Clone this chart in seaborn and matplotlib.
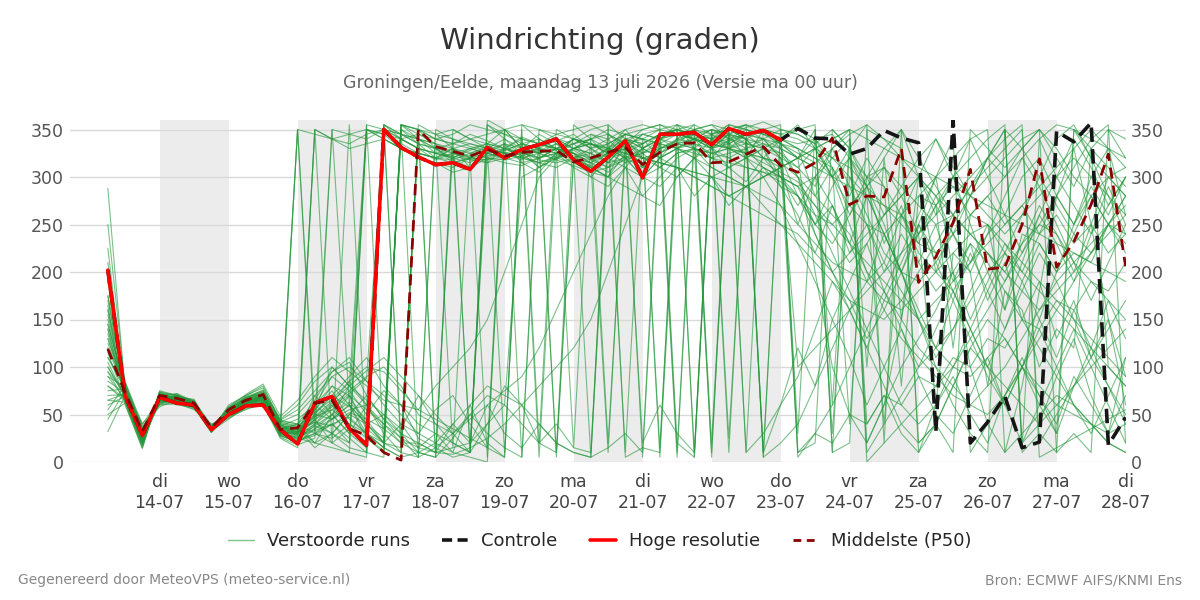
import numpy as np
import pandas as pd
import matplotlib
matplotlib.use("Agg")
import matplotlib.pyplot as plt
from matplotlib.lines import Line2D
import seaborn as sns

# forecast steps: hours after ma 13-07 00 uur, every 6 h up to di 28-07
hours = list(range(6, 361, 6))

# hoge resolutie run (up to 23-07 00 uur)
hres = [202, 70, 28, 68, 62, 60, 34, 50, 59, 60, 34, 19, 62, 69, 35, 18, 350, 331, 321, 313,
        315, 308, 331, 320, 329, 334, 340, 318, 306, 321, 338, 299, 345, 345, 347, 334, 351, 345, 349, 339]

# control run
controle = hres[:40] + [351, 341, 340, 324, 330, 349, 341, 336, 32, 360,
                        20, 42, 69, 15, 21, 348, 337, 357, 18, 47]

# median of the ensemble
p50 = [119, 73, 32, 70, 67, 62, 36, 55, 65, 71, 34, 36, 62, 65, 35, 28, 10, 2, 350, 332,
       327, 322, 329, 322, 326, 327, 328, 316, 320, 326, 331, 313, 326, 335, 336, 315, 316, 324, 332, 312,
       305, 315, 341, 271, 280, 279, 330, 189, 216, 252, 308, 203, 205, 250, 319, 205, 232, 271, 324, 206]

# perturbed members (approx.)
members = [
    [288, 75, 40, 65, 68, 62, 35, 55, 62, 68, 30, 25, 40, 60, 35, 20, 350, 335, 325, 320,
     318, 310, 325, 330, 322, 328, 335, 320, 315, 325, 335, 310, 330, 340, 345, 330, 345, 340, 350, 335,
     330, 320, 300, 270, 250, 240, 260, 220, 200, 180, 210, 240, 260, 300, 320, 280, 250, 300, 330, 260],
    [250, 80, 30, 70, 65, 60, 38, 50, 60, 65, 35, 40, 55, 75, 45, 30, 20, 15, 350, 330,
     315, 320, 330, 325, 318, 330, 325, 310, 300, 320, 330, 305, 335, 345, 330, 320, 340, 335, 330, 300,
     280, 250, 230, 260, 300, 330, 350, 10, 40, 80, 120, 150, 130, 100, 60, 30, 350, 320, 300, 280],
    [225, 70, 25, 66, 70, 64, 34, 52, 68, 72, 40, 350, 30, 45, 60, 25, 10, 355, 340, 325,
     320, 315, 328, 322, 326, 320, 330, 325, 310, 300, 340, 320, 325, 335, 340, 320, 325, 330, 340, 320,
     310, 290, 330, 350, 20, 60, 100, 130, 160, 200, 230, 210, 180, 150, 120, 90, 60, 40, 20, 10],
    [200, 65, 20, 72, 66, 58, 36, 56, 64, 70, 38, 45, 60, 80, 70, 40, 50, 30, 20, 10,
     15, 20, 40, 60, 300, 310, 320, 330, 335, 328, 340, 330, 345, 350, 340, 335, 330, 345, 350, 345,
     350, 340, 320, 300, 260, 220, 200, 190, 210, 240, 280, 300, 320, 340, 350, 330, 300, 280, 250, 230],
    [175, 85, 35, 60, 62, 55, 40, 48, 55, 62, 28, 20, 35, 50, 30, 15, 355, 340, 330, 318,
     325, 322, 315, 320, 330, 325, 318, 330, 325, 315, 335, 340, 350, 10, 350, 340, 345, 335, 330, 325,
     300, 280, 260, 240, 200, 180, 150, 120, 100, 80, 60, 50, 70, 100, 150, 200, 250, 280, 300, 310],
    [165, 60, 15, 75, 70, 62, 32, 60, 70, 78, 45, 60, 85, 100, 80, 60, 40, 20, 10, 5,
     350, 340, 335, 330, 325, 320, 325, 335, 340, 330, 320, 300, 310, 325, 330, 345, 350, 355, 5, 20,
     40, 80, 120, 160, 190, 210, 180, 150, 100, 60, 30, 10, 350, 330, 300, 270, 240, 220, 250, 280],
    [155, 72, 28, 64, 64, 60, 33, 45, 58, 60, 25, 15, 350, 340, 335, 345, 350, 330, 320, 315,
     305, 310, 320, 318, 322, 315, 320, 325, 300, 290, 310, 280, 300, 320, 330, 310, 300, 290, 270, 250,
     230, 210, 190, 170, 160, 150, 170, 200, 230, 260, 290, 310, 330, 350, 20, 50, 80, 110, 140, 170],
    [145, 78, 32, 68, 60, 58, 37, 54, 66, 74, 32, 30, 50, 70, 90, 110, 80, 60, 40, 30,
     20, 10, 360, 350, 340, 335, 330, 325, 320, 310, 330, 345, 340, 330, 320, 300, 280, 290, 300, 310,
     320, 330, 340, 350, 0, 20, 40, 60, 80, 100, 130, 160, 190, 220, 250, 280, 310, 340, 355, 20],
    [140, 68, 22, 62, 68, 66, 35, 50, 62, 66, 36, 35, 20, 30, 15, 10, 355, 345, 340, 335,
     330, 325, 332, 328, 335, 330, 340, 335, 320, 330, 345, 350, 355, 350, 345, 340, 350, 355, 345, 340,
     335, 340, 345, 320, 300, 310, 290, 270, 250, 260, 240, 220, 200, 230, 250, 240, 210, 190, 170, 150],
    [130, 74, 30, 70, 72, 60, 34, 58, 70, 80, 42, 50, 70, 90, 100, 85, 70, 50, 30, 20,
     10, 5, 0, 350, 330, 320, 330, 340, 335, 325, 330, 320, 325, 335, 340, 330, 320, 310, 305, 295,
     280, 260, 250, 270, 290, 250, 200, 150, 120, 100, 90, 110, 130, 100, 80, 60, 50, 40, 30, 40],
    [120, 82, 38, 58, 66, 64, 39, 47, 57, 63, 27, 22, 30, 25, 40, 30, 15, 5, 350, 340,
     335, 330, 325, 320, 325, 330, 320, 315, 310, 320, 325, 315, 330, 335, 350, 355, 350, 340, 320, 300,
     290, 300, 320, 340, 10, 40, 70, 100, 120, 140, 170, 200, 220, 200, 180, 160, 140, 120, 100, 80],
    [115, 66, 18, 74, 64, 57, 31, 53, 61, 69, 33, 28, 45, 60, 75, 90, 100, 80, 50, 40,
     30, 50, 70, 60, 40, 20, 10, 355, 340, 320, 310, 300, 320, 330, 340, 345, 335, 325, 315, 305,
     295, 270, 240, 210, 230, 260, 290, 320, 340, 310, 280, 260, 240, 260, 280, 300, 320, 300, 280, 260],
    [110, 76, 26, 67, 69, 61, 36, 51, 63, 71, 39, 33, 48, 55, 40, 25, 12, 355, 345, 335,
     325, 318, 322, 326, 320, 315, 322, 328, 318, 310, 322, 315, 330, 338, 345, 350, 345, 352, 358, 350,
     345, 335, 300, 250, 200, 160, 130, 110, 90, 70, 60, 80, 100, 130, 160, 190, 210, 230, 250, 270],
    [100, 70, 24, 63, 67, 63, 33, 49, 59, 64, 30, 350, 345, 340, 330, 335, 340, 330, 325, 320,
     315, 320, 325, 320, 330, 335, 330, 325, 315, 305, 320, 330, 340, 335, 330, 325, 320, 330, 335, 330,
     320, 310, 300, 290, 280, 270, 260, 280, 300, 320, 340, 350, 10, 30, 50, 70, 60, 40, 20, 10],
    [95, 64, 16, 71, 71, 59, 35, 57, 67, 76, 44, 55, 75, 95, 105, 70, 45, 25, 15, 10,
     8, 15, 25, 40, 60, 80, 100, 120, 150, 200, 250, 300, 320, 330, 320, 310, 300, 290, 280, 270,
     250, 230, 210, 200, 190, 170, 160, 180, 200, 220, 240, 250, 230, 210, 190, 170, 150, 130, 110, 90],
    [90, 79, 34, 65, 63, 62, 37, 52, 60, 67, 31, 26, 35, 45, 55, 60, 30, 10, 355, 345,
     340, 332, 328, 335, 330, 325, 330, 322, 318, 325, 330, 335, 345, 350, 355, 5, 355, 350, 340, 335,
     325, 315, 330, 345, 355, 340, 320, 300, 280, 300, 320, 340, 355, 10, 30, 10, 350, 330, 310, 290],
    [85, 73, 29, 69, 65, 60, 34, 50, 64, 68, 37, 31, 42, 38, 52, 45, 35, 340, 330, 325,
     322, 318, 315, 330, 326, 318, 315, 320, 325, 315, 320, 310, 325, 340, 335, 330, 338, 345, 350, 345,
     340, 330, 320, 310, 290, 270, 250, 230, 220, 240, 260, 280, 300, 320, 340, 355, 350, 340, 330, 320],
    [80, 67, 21, 66, 70, 65, 32, 55, 68, 73, 41, 37, 52, 66, 85, 100, 95, 75, 55, 45,
     35, 25, 15, 5, 355, 340, 330, 320, 310, 300, 290, 280, 270, 300, 320, 340, 330, 320, 310, 300,
     290, 250, 270, 220, 250, 200, 240, 210, 180, 200, 150, 190, 230, 200, 240, 280, 250, 290, 260, 300],
    [75, 77, 36, 61, 61, 56, 38, 46, 56, 61, 26, 18, 25, 350, 345, 340, 350, 345, 335, 330,
     320, 328, 335, 330, 322, 332, 338, 345, 330, 320, 340, 345, 350, 355, 350, 345, 355, 350, 345, 340,
     330, 280, 310, 260, 290, 230, 270, 210, 250, 190, 230, 170, 210, 150, 190, 130, 170, 110, 150, 90],
    [70, 71, 27, 72, 68, 61, 35, 53, 65, 70, 34, 29, 60, 45, 70, 55, 40, 25, 5, 350,
     340, 335, 330, 325, 330, 335, 340, 330, 325, 335, 345, 340, 335, 330, 340, 350, 345, 340, 335, 325,
     310, 330, 300, 320, 290, 310, 280, 300, 270, 290, 260, 280, 250, 270, 240, 260, 230, 250, 220, 240],
    [65, 63, 19, 68, 66, 58, 33, 48, 60, 66, 29, 24, 38, 50, 63, 45, 20, 350, 340, 330,
     318, 325, 320, 315, 312, 320, 325, 315, 305, 300, 315, 320, 310, 325, 330, 320, 310, 320, 330, 320,
     10, 30, 20, 50, 40, 70, 60, 90, 80, 110, 100, 130, 120, 150, 140, 170, 160, 190, 180, 210],
    [60, 69, 25, 64, 65, 63, 36, 54, 62, 69, 35, 30, 44, 58, 72, 88, 350, 340, 330, 325,
     320, 330, 325, 320, 315, 320, 330, 340, 350, 355, 5, 15, 10, 355, 345, 335, 330, 325, 320, 315,
     300, 260, 220, 180, 140, 100, 60, 40, 60, 100, 140, 180, 220, 260, 300, 340, 355, 320, 280, 240],
    [55, 81, 33, 70, 67, 59, 37, 51, 66, 72, 40, 36, 55, 80, 60, 40, 20, 10, 5, 15,
     30, 45, 60, 75, 90, 120, 160, 200, 240, 280, 310, 330, 340, 345, 340, 335, 340, 345, 350, 355,
     5, 30, 60, 100, 140, 180, 220, 260, 300, 340, 10, 40, 70, 100, 130, 160, 190, 220, 250, 280],
    [50, 62, 14, 73, 63, 57, 34, 56, 69, 75, 43, 40, 30, 20, 10, 5, 355, 345, 340, 330,
     325, 320, 318, 322, 328, 325, 318, 312, 305, 310, 318, 325, 330, 335, 330, 325, 330, 335, 340, 320,
     280, 240, 200, 160, 120, 80, 40, 20, 40, 80, 120, 100, 80, 60, 40, 60, 80, 100, 120, 140],
    [45, 75, 31, 65, 72, 64, 31, 49, 63, 65, 30, 25, 20, 15, 10, 350, 345, 330, 325, 320,
     330, 335, 330, 325, 320, 325, 330, 335, 340, 345, 335, 320, 315, 310, 300, 290, 280, 270, 260, 250,
     240, 220, 200, 220, 240, 260, 280, 300, 280, 260, 240, 220, 200, 180, 160, 180, 200, 220, 240, 260],
    [32, 70, 23, 67, 62, 60, 38, 52, 58, 63, 33, 27, 33, 40, 47, 30, 15, 5, 10, 20,
     40, 60, 80, 70, 60, 40, 20, 10, 5, 355, 340, 330, 320, 310, 300, 290, 280, 290, 300, 310,
     320, 330, 340, 350, 340, 330, 320, 310, 300, 290, 280, 270, 260, 250, 240, 230, 220, 210, 200, 190],
    [160, 84, 40, 60, 69, 61, 35, 58, 71, 82, 48, 65, 90, 110, 95, 80, 65, 60, 55, 80,
     100, 120, 150, 200, 250, 300, 320, 330, 335, 330, 325, 320, 315, 310, 305, 300, 295, 290, 300, 310,
     320, 200, 100, 50, 20, 60, 150, 250, 300, 200, 100, 40, 10, 80, 180, 280, 330, 250, 150, 60],
    [135, 72, 29, 66, 64, 62, 34, 50, 61, 67, 32, 30, 350, 20, 355, 10, 350, 345, 335, 330,
     335, 340, 345, 350, 355, 350, 345, 340, 335, 330, 325, 320, 315, 310, 305, 300, 310, 320, 330, 340,
     350, 355, 10, 20, 350, 340, 330, 20, 40, 10, 350, 330, 310, 330, 350, 10, 30, 10, 350, 340],
    [125, 76, 30, 68, 66, 60, 36, 52, 63, 68, 36, 32, 48, 64, 80, 96, 110, 90, 70, 50,
     30, 10, 355, 340, 325, 310, 320, 330, 340, 350, 345, 340, 335, 330, 325, 320, 315, 310, 305, 300,
     290, 270, 250, 230, 210, 190, 170, 150, 170, 190, 210, 230, 250, 270, 290, 310, 330, 350, 330, 310],
    [105, 68, 26, 64, 68, 62, 33, 54, 64, 70, 38, 34, 42, 30, 20, 350, 340, 330, 320, 315,
     310, 320, 330, 325, 320, 315, 310, 320, 330, 340, 350, 355, 350, 345, 340, 335, 330, 325, 320, 315,
     100, 120, 140, 160, 180, 200, 220, 240, 260, 280, 300, 320, 340, 355, 5, 15, 25, 35, 45, 55],
    [150, 70, 24, 70, 66, 60, 35, 52, 62, 68, 34, 40, 20, 50, 30, 60, 355, 10, 345, 5,
     340, 10, 335, 350, 5, 340, 330, 15, 345, 335, 10, 340, 5, 330, 345, 20, 350, 340, 10, 345,
     30, 350, 60, 340, 100, 320, 150, 300, 200, 250, 280, 320, 350, 20, 60, 100, 140, 100, 60, 20],
    [170, 78, 33, 62, 64, 58, 37, 50, 60, 64, 29, 23, 30, 40, 20, 355, 350, 20, 340, 335,
     15, 325, 330, 10, 335, 340, 5, 320, 315, 10, 340, 335, 15, 345, 340, 350, 10, 345, 340, 330,
     320, 310, 30, 300, 280, 40, 260, 240, 60, 220, 200, 80, 180, 160, 100, 140, 120, 330, 100, 80],
    [190, 66, 20, 74, 70, 63, 34, 56, 66, 72, 40, 350, 45, 350, 60, 30, 15, 355, 350, 10,
     330, 320, 5, 335, 325, 330, 10, 320, 5, 330, 320, 325, 335, 5, 340, 335, 345, 10, 350, 340,
     330, 320, 310, 40, 300, 290, 80, 280, 270, 120, 260, 250, 160, 240, 230, 200, 220, 210, 250, 240],
    [210, 74, 27, 66, 67, 61, 36, 53, 64, 69, 35, 31, 55, 100, 80, 355, 15, 350, 5, 345,
     330, 15, 320, 330, 340, 5, 325, 330, 340, 20, 330, 345, 340, 350, 10, 345, 350, 340, 5, 350,
     10, 20, 350, 330, 40, 70, 30, 10, 60, 90, 50, 20, 70, 110, 70, 30, 80, 120, 80, 40],
    [140, 72, 30, 66, 65, 60, 35, 52, 62, 67, 33, 28, 40, 55, 70, 35, 20, 40, 15, 30,
     10, 60, 20, 5, 350, 20, 40, 15, 10, 345, 330, 20, 60, 30, 10, 350, 25, 340, 10, 60,
     120, 80, 150, 110, 60, 100, 140, 90, 50, 30, 70, 110, 60, 20, 40, 90, 130, 70, 30, 110],
    [100, 68, 24, 69, 67, 62, 36, 53, 64, 70, 37, 32, 60, 90, 75, 50, 75, 60, 25, 15,
     5, 10, 40, 80, 60, 20, 350, 340, 330, 335, 345, 340, 320, 330, 335, 325, 330, 340, 320, 310,
     250, 300, 270, 230, 280, 240, 200, 250, 210, 170, 220, 180, 140, 190, 150, 110, 160, 120, 170, 130],
    [120, 74, 28, 67, 66, 61, 35, 51, 63, 68, 34, 30, 45, 20, 35, 15, 350, 340, 345, 340,
     335, 345, 338, 330, 342, 335, 328, 335, 345, 340, 320, 300, 290, 310, 280, 300, 270, 290, 310, 300,
     270, 300, 330, 290, 250, 210, 260, 300, 340, 300, 250, 200, 160, 210, 260, 230, 190, 240, 290, 250],
    [90, 66, 22, 71, 68, 60, 34, 55, 66, 71, 39, 35, 15, 30, 50, 40, 20, 350, 335, 320,
     330, 310, 325, 335, 315, 305, 325, 340, 335, 325, 345, 5, 340, 355, 330, 10, 345, 320, 350, 330,
     300, 240, 200, 170, 130, 160, 200, 150, 110, 140, 180, 220, 190, 230, 270, 240, 200, 250, 300, 280],
    [130, 78, 34, 64, 63, 59, 37, 50, 61, 65, 31, 26, 38, 30, 50, 70, 45, 30, 10, 5,
     25, 50, 30, 15, 5, 350, 340, 330, 335, 325, 315, 330, 340, 345, 340, 330, 335, 345, 340, 350,
     345, 335, 350, 330, 300, 260, 280, 240, 270, 300, 280, 320, 300, 330, 350, 320, 290, 330, 350, 320],
    [160, 70, 26, 68, 69, 63, 33, 54, 65, 72, 42, 38, 52, 70, 58, 350, 345, 340, 330, 325,
     330, 320, 318, 328, 335, 330, 325, 318, 312, 325, 338, 325, 340, 350, 345, 340, 335, 345, 330, 290,
     260, 220, 270, 230, 190, 240, 200, 160, 120, 170, 130, 90, 60, 100, 70, 40, 90, 60, 30, 70],
    [110, 80, 36, 62, 65, 58, 38, 48, 58, 63, 28, 22, 28, 40, 25, 10, 5, 355, 350, 345,
     350, 340, 330, 340, 330, 345, 335, 325, 315, 330, 350, 330, 320, 340, 355, 345, 330, 320, 300, 270,
     230, 190, 150, 190, 230, 180, 140, 100, 140, 180, 140, 100, 60, 100, 140, 100, 60, 30, 70, 110],
    [80, 64, 18, 73, 70, 64, 32, 57, 68, 74, 44, 40, 65, 95, 110, 85, 60, 40, 30, 55,
     70, 40, 15, 350, 330, 310, 325, 340, 330, 315, 335, 325, 310, 300, 320, 330, 310, 295, 320, 340,
     355, 330, 300, 330, 355, 20, 350, 320, 290, 260, 290, 320, 350, 15, 340, 300, 270, 240, 270, 300],
    [65, 72, 30, 65, 64, 62, 36, 51, 62, 66, 33, 29, 350, 340, 345, 350, 340, 330, 325, 320,
     325, 330, 335, 320, 325, 335, 330, 320, 310, 300, 325, 335, 345, 350, 340, 330, 345, 355, 350, 335,
     320, 340, 310, 280, 320, 290, 260, 230, 270, 240, 210, 250, 220, 190, 230, 200, 240, 280, 250, 220],
    [145, 76, 32, 63, 67, 60, 35, 52, 64, 69, 35, 31, 47, 62, 85, 60, 35, 20, 20, 10,
     40, 20, 60, 30, 15, 40, 20, 10, 5, 15, 30, 10, 355, 20, 5, 340, 355, 10, 30, 60,
     90, 140, 190, 160, 120, 170, 210, 250, 220, 180, 140, 100, 140, 180, 220, 190, 150, 110, 80, 50],
    [175, 69, 25, 70, 66, 61, 34, 54, 63, 70, 38, 34, 50, 45, 60, 40, 25, 355, 350, 340,
     345, 355, 350, 345, 340, 335, 345, 350, 355, 345, 335, 350, 355, 345, 350, 355, 340, 350, 345, 335,
     320, 350, 10, 330, 290, 320, 350, 300, 260, 300, 340, 300, 260, 220, 260, 300, 340, 310, 270, 300],
    [95, 74, 28, 68, 65, 62, 36, 53, 62, 68, 36, 32, 70, 50, 80, 65, 50, 35, 70, 40,
     20, 10, 355, 345, 335, 325, 335, 330, 320, 330, 340, 335, 345, 350, 5, 350, 340, 330, 310, 290,
     280, 250, 290, 320, 280, 240, 200, 240, 280, 240, 200, 240, 280, 320, 290, 250, 210, 170, 210, 250],
]

days = ["di", "wo", "do", "vr", "za", "zo", "ma", "di", "wo", "do", "vr", "za", "zo", "ma", "di"]
dates = ["14-07", "15-07", "16-07", "17-07", "18-07", "19-07", "20-07", "21-07",
         "22-07", "23-07", "24-07", "25-07", "26-07", "27-07", "28-07"]

# long-form table for seaborn
rows = []
for i, m in enumerate(members):
    for h, v in zip(hours, m):
        rows.append((i, h, v))
df_ens = pd.DataFrame(rows, columns=["member", "hour", "deg"])
df_hres = pd.DataFrame({"hour": hours[:len(hres)], "deg": hres})
df_ctrl = pd.DataFrame({"hour": hours, "deg": controle})
df_p50 = pd.DataFrame({"hour": hours, "deg": p50})

sns.set_style("white")
plt.rcParams["font.family"] = ["DejaVu Sans"]

fig = plt.figure(figsize=(12, 6), dpi=100)
ax = fig.add_axes([0.058, 0.23, 0.88, 0.57])

# shade every other day
for d in range(1, 15, 2):
    ax.axvspan(d * 24, (d + 1) * 24, color="#ececec", zorder=0, lw=0)

sns.lineplot(data=df_ens, x="hour", y="deg", units="member", estimator=None,
             color="#23973a", alpha=0.6, lw=0.8, ax=ax, legend=False, zorder=2)
sns.lineplot(data=df_ctrl, x="hour", y="deg", color="#151515", lw=2.6,
             ax=ax, legend=False, zorder=3)
ax.lines[-1].set_linestyle((0, (4, 2)))
sns.lineplot(data=df_hres, x="hour", y="deg", color="#ff0000", lw=2.6,
             ax=ax, legend=False, zorder=4)
sns.lineplot(data=df_p50, x="hour", y="deg", color="#8b0000", lw=2.0,
             ax=ax, legend=False, zorder=5)
ax.lines[-1].set_linestyle((0, (4, 2.5)))

ax.set_xlim(-7.3, 360)
ax.set_ylim(0, 360)
ax.set_yticks(range(0, 351, 50))
ax.set_xticks([24 * (i + 1) for i in range(len(dates))])
ax.set_xticklabels([f"{d}\n{t}" for d, t in zip(days, dates)])
ax.set_xlabel("")
ax.set_ylabel("")
ax.grid(axis="y", color="#d9d9d9", lw=1, zorder=1)
ax.set_axisbelow(True)
for s in ax.spines.values():
    s.set_visible(False)
ax.tick_params(axis="x", length=6, width=1.5, color="#666666", labelsize=12.5,
               labelcolor="#444444", pad=2)
ax.tick_params(axis="y", length=0, labelsize=12.5, labelcolor="#555555",
               labelright=True, labelleft=True, pad=4)

fig.text(0.5, 0.932, "Windrichting (graden)", ha="center", va="center",
         fontsize=21, color="#333333")
fig.text(0.5, 0.861, "Groningen/Eelde, maandag 13 juli 2026 (Versie ma 00 uur)",
         ha="center", va="center", fontsize=12.5, color="#666666")

handles = [Line2D([], [], color="#7cc68a", lw=1),
           Line2D([], [], color="#151515", lw=2.6, ls=(0, (2.8, 1.5))),
           Line2D([], [], color="#ff0000", lw=2.6),
           Line2D([], [], color="#8b0000", lw=2.0, ls=(0, (2.8, 2)))]
labels = ["Verstoorde runs", "Controle", "Hoge resolutie", "Middelste (P50)"]
fig.legend(handles, labels, loc="center", bbox_to_anchor=(0.5, 0.098), ncol=4,
           frameon=False, fontsize=13, handlelength=1.45, handletextpad=0.7,
           columnspacing=1.8)

fig.text(0.015, 0.033, "Gegenereerd door MeteoVPS (meteo-service.nl)", ha="left",
         va="center", fontsize=10, color="#888888")
fig.text(0.985, 0.033, "Bron: ECMWF AIFS/KNMI Ens", ha="right", va="center",
         fontsize=10, color="#888888")

fig.savefig("out.png", dpi=100)
